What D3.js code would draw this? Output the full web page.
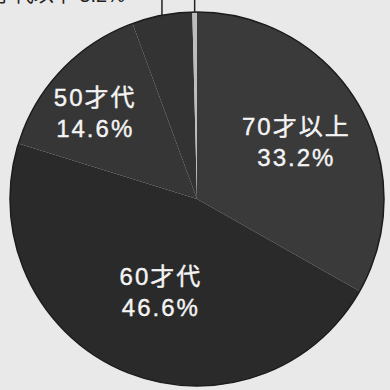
<!DOCTYPE html>
<html>
<head>
<meta charset="utf-8">
<script src="https://cdn.jsdelivr.net/npm/d3@7"></script>
<style>
	html, body { margin: 0; padding: 0; background: #e9e9e9; }
	svg { display: block; }
</style>
</head>
<body>
<script>
let width = 390;
let height = 390;

// slice data, clockwise from 12 o'clock
let categories = ["70才以上", "60才代", "50才代", "40才代以下", "不明"];
let shares = [33.2, 46.6, 14.6, 5.2, 0.4];
let fills = ["#3a3a3a", "#2a2a2a", "#363636", "#333333", "#bdbdbd"];

let cx = 197, cy = 199, r = 187;
// where the white labels sit inside the slices
let labelR = [115, 99, 134];
let labelShift = [0, -2, -3];

let svg = d3.select("body").append("svg")
	.attr("width", width)
	.attr("height", height);

let g = svg.append("g").attr("transform", `translate(${cx},${cy})`);

let pie = d3.pie().sort(null).value(d => d.v);
let arcs = pie(categories.map((c, i) => ({ name: c, v: shares[i], i: i })));
let arc = d3.arc().innerRadius(0).outerRadius(r);

g.selectAll("path.slice")
	.data(arcs)
	.enter()
	.append("path")
	.attr("class", "slice")
	.attr("d", arc)
	.attr("fill", d => fills[d.data.i]);

g.append("circle")
	.attr("r", r)
	.attr("fill", "none")
	.attr("stroke", "#1c1c1c")
	.attr("stroke-width", 1.5);

// leader lines for the two small slices, going up out of the picture
arcs.slice(3).forEach(d => {
	let a = (d.startAngle + d.endAngle) / 2;
	let x = r * Math.sin(a);
	let y = -r * Math.cos(a);
	g.append("line")
		.attr("x1", x).attr("y1", y)
		.attr("x2", x).attr("y2", -cy)
		.attr("stroke", "#222")
		.attr("stroke-width", 1.5);
});

// label of the small slices, cut by the top edge as in the scan
svg.append("text")
	.text("40才代以下 5.2%")
	.attr("x", 125)
	.attr("y", 2)
	.attr("text-anchor", "end")
	.style("font-family", "'Liberation Sans', 'Noto Sans CJK JP', sans-serif")
	.style("font-size", "20px")
	.attr("fill", "#222");

// white labels inside the big slices
arcs.slice(0, 3).forEach((d, k) => {
	let a = (d.startAngle + d.endAngle) / 2 + labelShift[k] * Math.PI / 180;
	let x = labelR[k] * Math.sin(a);
	let y = -labelR[k] * Math.cos(a);
	let t = g.append("text")
		.attr("text-anchor", "middle")
		.attr("fill", "#f4f4f4")
		.attr("stroke", "#f4f4f4")
		.attr("stroke-width", 0.4)
		.style("font-family", "'Liberation Sans', 'Noto Sans CJK JP', sans-serif")
		.style("font-size", "24px")
		.style("letter-spacing", "2px");
	t.append("tspan").attr("x", x).attr("y", y - 6).text(d.data.name);
	t.append("tspan").attr("x", x).attr("y", y + 25).text(d.data.v.toFixed(1) + "%");
});
</script>
</body>
</html>
